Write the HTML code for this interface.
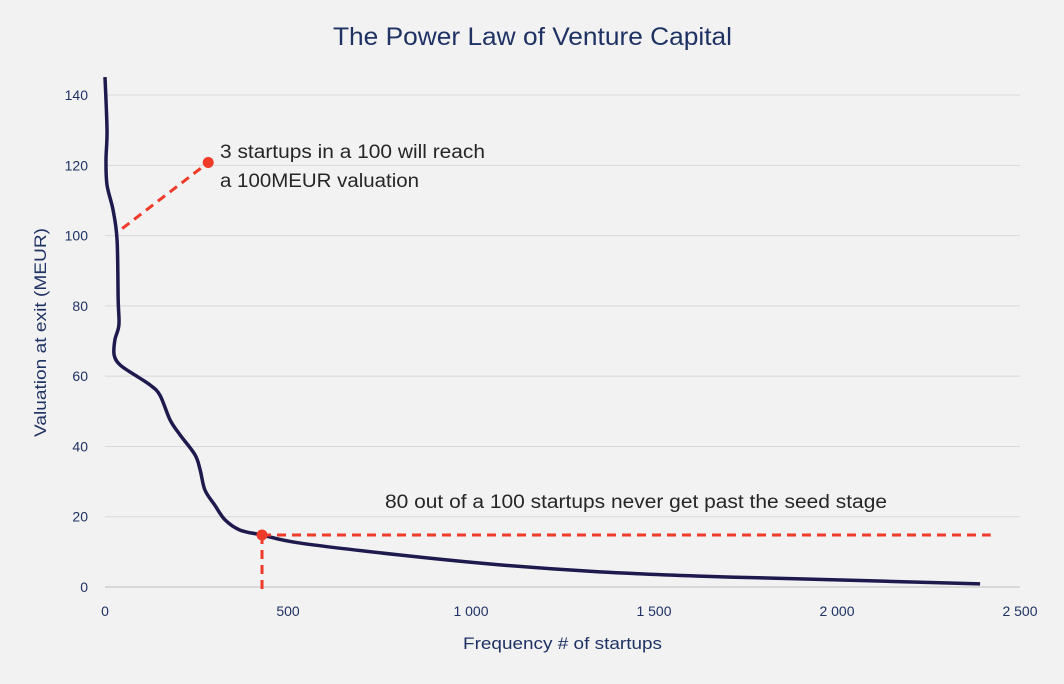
<!DOCTYPE html>
<html><head><meta charset="utf-8"><style>
body{margin:0;background:#f2f2f2;font-family:"Liberation Sans",sans-serif}
svg text{font-family:"Liberation Sans",sans-serif}
</style></head><body>
<svg id="c" width="1064" height="679">
<rect width="1064" height="679" fill="#f2f2f2"/>
<text x="333" y="45" textLength="399" lengthAdjust="spacingAndGlyphs" font-size="25" fill="#1f3264">The Power Law of Venture Capital</text>
<g id="grid"></g><g id="xt"></g><g id="yt"></g>
<text x="463" y="649" textLength="199" lengthAdjust="spacingAndGlyphs" font-size="17" fill="#1f3264">Frequency # of startups</text>
<text transform="translate(46,437) rotate(-90)" textLength="209" lengthAdjust="spacingAndGlyphs" font-size="17" fill="#1f3264">Valuation at exit (MEUR)</text>
<path id="curve" fill="none" stroke="#1e1a4d" stroke-width="3.5"/>
<g id="ann"></g>
</svg>
<script>
const xTicks=[0,500,1000,1500,2000,2500];
const xTickLabels=["0","500","1 000","1 500","2 000","2 500"];
const yTicks=[0,20,40,60,80,100,120,140];
const curveX=[0,5.5,2.7,5.5,22,33,36,38,27,25,41,82,123,150,178,205,246,260,273,300,328,369,429,533,806,1079,1352,1626,1899,2391];
const curveY=[145.1,130,121.5,114.4,107.3,98.7,81.7,74.6,70.3,66,63.2,60.3,57.5,54.6,47.5,43.3,37.6,33.3,27.6,23.3,19.1,16.2,14.8,12.5,9.1,6.3,4.3,3.1,2.3,0.9];
const seedX=[429],seedY=[14.8],seedEndX=[2420];
const topLineX=[47,282],topLineY=[102,120.8];
const X=v=>105+v*0.366, Y=v=>587-v*3.514;
const NS="http://www.w3.org/2000/svg";
function mk(t,a,p){const e=document.createElementNS(NS,t);for(const k in a)e.setAttribute(k,a[k]);p.appendChild(e);return e;}
const g=document.getElementById('grid');
yTicks.forEach(v=>{if(v===0)return;const l=mk('line',{x1:105,x2:1020,y1:Y(v),y2:Y(v),stroke:'#d9d9d9','stroke-width':1},g);

});
const ax=mk('line',{x1:105,x2:1020,y1:Y(0),y2:Y(0),stroke:'#bfbfbf','stroke-width':1},g);


const yt=document.getElementById('yt');
yTicks.forEach(v=>{const t=mk('text',{x:88,y:Y(v)+5,'text-anchor':'end','font-size':14,fill:'#1f3264'},yt);t.textContent=v;

});
const xt=document.getElementById('xt');
xTicks.forEach((v,i)=>{const t=mk('text',{x:X(v),y:616,'text-anchor':'middle','font-size':14,fill:'#1f3264'},xt);t.textContent=xTickLabels[i];

});
const P=curveX.map((x,i)=>[X(x),Y(curveY[i])]);
let d='M'+P[0][0]+','+P[0][1];
for(let i=0;i<P.length-1;i++){const p0=P[Math.max(0,i-1)],p1=P[i],p2=P[i+1],p3=P[Math.min(P.length-1,i+2)];
d+=' C'+(p1[0]+(p2[0]-p0[0])/6)+','+(p1[1]+(p2[1]-p0[1])/6)+' '+(p2[0]-(p3[0]-p1[0])/6)+','+(p2[1]-(p3[1]-p1[1])/6)+' '+p2[0]+','+p2[1];}
document.getElementById('curve').setAttribute('d',d);
const an=document.getElementById('ann');
const red='#f03a2a';
let e=mk('line',{x1:X(topLineX[0]),y1:Y(topLineY[0]),x2:X(topLineX[1]),y2:Y(topLineY[1]),stroke:red,'stroke-width':3,'stroke-dasharray':'9,6'},an);


e=mk('circle',{cx:X(topLineX[1]),cy:Y(topLineY[1]),r:5.5,fill:red},an);


e=mk('line',{x1:X(seedX[0]),y1:Y(seedY[0]),x2:X(seedEndX[0]),y2:Y(seedY[0]),stroke:red,'stroke-width':3,'stroke-dasharray':'9,6'},an);


e=mk('line',{x1:X(seedX[0]),y1:Y(seedY[0]),x2:X(seedX[0]),y2:592,stroke:red,'stroke-width':3,'stroke-dasharray':'9,6'},an);


e=mk('circle',{cx:X(seedX[0]),cy:Y(seedY[0]),r:5.5,fill:red},an);


const t1=mk('text',{x:220,y:158,'font-size':19,fill:'#262626',textLength:265,lengthAdjust:'spacingAndGlyphs'},an);t1.textContent='3 startups in a 100 will reach';


const t2=mk('text',{x:220,y:187,'font-size':19,fill:'#262626',textLength:199,lengthAdjust:'spacingAndGlyphs'},an);t2.textContent='a 100MEUR valuation';


const t3=mk('text',{x:385,y:508,'font-size':19,fill:'#262626',textLength:502,lengthAdjust:'spacingAndGlyphs'},an);t3.textContent='80 out of a 100 startups never get past the seed stage';


</script>
</body></html>
